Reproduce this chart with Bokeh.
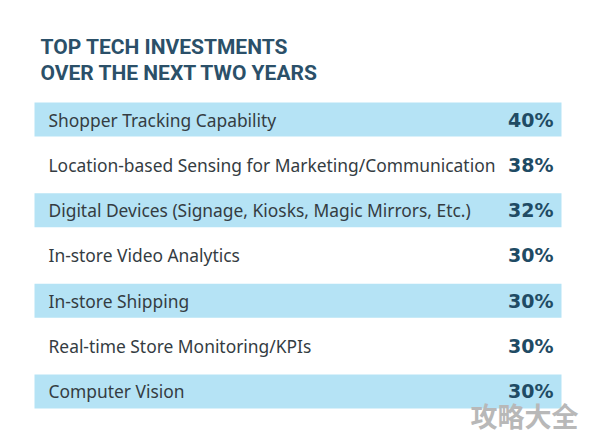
from bokeh.plotting import figure
from bokeh.models import Range1d, ColumnDataSource
from bokeh.core.properties import value
from bokeh.embed import file_html
from bokeh.resources import INLINE

title_lines = ["TOP TECH INVESTMENTS", "OVER THE NEXT TWO YEARS"]
categories = [
    "Shopper Tracking Capability",
    "Location-based Sensing for Marketing/Communication",
    "Digital Devices (Signage, Kiosks, Magic Mirrors, Etc.)",
    "In-store Video Analytics",
    "In-store Shipping",
    "Real-time Store Monitoring/KPIs",
    "Computer Vision",
]
percentages = [40, 38, 32, 30, 30, 30, 30]
watermark = "攻略大全"

W, H = 586, 435
ROW = 45.33
top = -119 / ROW
p = figure(width=W, height=H, output_backend="svg", toolbar_location=None,
           x_range=Range1d(0, W), y_range=Range1d(top + H / ROW, top),
           min_border=0, outline_line_color=None)
p.axis.visible = False
p.grid.visible = False
p.background_fill_color = "white"
p.border_fill_color = "white"

n = len(categories)
idx = list(range(n))
src = ColumnDataSource(dict(
    y=idx,
    label=categories,
    pct=[f"{v}%" for v in percentages],
    fill=["#b5e3f5" if i % 2 == 0 else "white" for i in idx],
))

p.hbar(y="y", left=34, right=561, height=0.75, fill_color="fill",
       line_color=None, source=src)

p.text(x=48, y="y", text="label", source=src, text_font=value("Noto Sans"),
       text_font_size="17.4px", text_color="#343c42", text_baseline="middle",
       text_align="left")
p.text(x=553, y="y", text="pct", source=src, text_font=value("DejaVu Sans"),
       text_font_size="19px", text_font_style="bold", text_color="#1f4b64",
       text_baseline="middle", text_align="right")

p.text(x=[40, 40], y=[-1.6, -1.03], text=title_lines, text_font=value("Roboto"),
       text_font_size="21px", text_font_style="bold", text_color="#2b5069",
       text_baseline="middle", text_align="left")

p.text(x=[524], y=[6.53], text=[watermark], text_font=value("Noto Sans CJK SC"),
       text_font_size="27px", text_font_style="bold", text_color="#b8b8b8",
       text_baseline="middle", text_align="center")

open("out.html", "w").write(file_html(p, INLINE))
